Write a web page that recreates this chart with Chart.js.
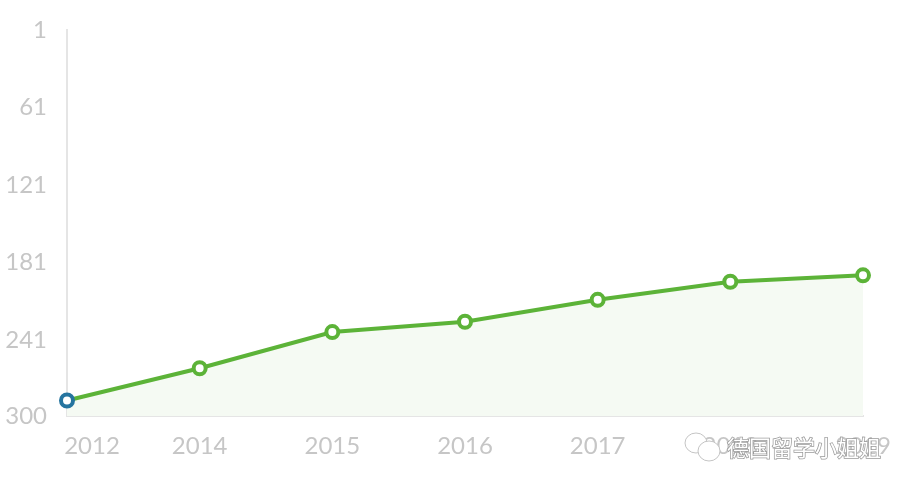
<!DOCTYPE html>
<html>
<head>
<meta charset="utf-8">
<style>
  html, body { margin: 0; background: #fff; }
  #wrap { width: 910px; height: 488px; }
</style>
<script src="https://cdn.jsdelivr.net/npm/chart.js@4"></script>
</head>
<body>
<div id="wrap"><canvas id="rank"></canvas></div>
<script>
const years = ["2012", "2014", "2015", "2016", "2017", "2018", "2019"];
const ranks = [288, 263, 235, 227, 210, 196, 191];
const rankTicks = [1, 61, 121, 181, 241, 300];
const watermark = "德国留学小姐姐";

const labelColor = "#c6c6c6";
const axisColor = "#e5e5e5";
const green = "#5cb338";
const blue = "#25749f";

// x labels: the first one sits to the right of its point, so Chart.js ticks can't do it
const yearLabels = {
  id: "yearLabels",
  afterDatasetsDraw(chart) {
    const ctx = chart.ctx;
    const x = chart.scales.x;
    ctx.save();
    ctx.font = "24px Lato";
    ctx.fillStyle = labelColor;
    ctx.textAlign = "center";
    ctx.textBaseline = "middle";
    years.forEach((year, i) => {
      ctx.fillText(year, x.getPixelForValue(i) + (i === 0 ? 25 : 0), 446);
    });
    ctx.restore();
  }
};

// WeChat style stamp over the bottom right corner
const stamp = {
  id: "stamp",
  afterDraw(chart) {
    const ctx = chart.ctx;
    ctx.save();
    ctx.lineWidth = 1;
    ctx.strokeStyle = "#c4c4c4";
    ctx.fillStyle = "#fff";
    ctx.beginPath();
    ctx.ellipse(696, 443, 11, 10, 0, 0, Math.PI * 2);
    ctx.fill();
    ctx.stroke();
    ctx.beginPath();
    ctx.ellipse(709, 451, 11, 10, 0, 0, Math.PI * 2);
    ctx.fill();
    ctx.stroke();
    ctx.font = "22px 'Noto Sans CJK SC'";
    ctx.textAlign = "left";
    ctx.textBaseline = "middle";
    ctx.lineWidth = 1.5;
    ctx.strokeStyle = "#9a9a9a";
    ctx.strokeText(watermark, 727, 448);
    ctx.fillStyle = "#fff";
    ctx.fillText(watermark, 727, 448);
    ctx.restore();
  }
};

new Chart(document.getElementById("rank"), {
  type: "line",
  data: {
    labels: years,
    datasets: [{
      data: ranks,
      borderColor: green,
      borderWidth: 4,
      backgroundColor: "#f5faf3",
      fill: "start",
      tension: 0,
      clip: false,
      pointRadius: 6,
      pointBorderWidth: 4,
      pointBackgroundColor: "#fff",
      pointBorderColor: [blue, green, green, green, green, green, green]
    }]
  },
  options: {
    responsive: true,
    maintainAspectRatio: false,
    animation: false,
    layout: { padding: { top: 30, right: 47, left: 0, bottom: 0 } },
    plugins: { legend: { display: false }, tooltip: { enabled: false } },
    scales: {
      x: {
        afterFit: s => { s.height = 72; },
        grid: { drawOnChartArea: false, drawTicks: false },
        border: { color: axisColor, width: 2 },
        ticks: { display: false }
      },
      y: {
        reverse: true,
        min: 1,
        max: 300,
        afterFit: s => { s.width = 67; s.paddingTop = 0; s.paddingBottom = 0; },
        afterBuildTicks: s => { s.ticks = rankTicks.map(value => ({ value })); },
        grid: { drawOnChartArea: false, drawTicks: false },
        border: { color: axisColor, width: 2 },
        ticks: {
          color: labelColor,
          font: { family: "Lato", size: 24 },
          padding: 20,
          autoSkip: false
        }
      }
    }
  },
  plugins: [yearLabels, stamp]
});
</script>
</body>
</html>
